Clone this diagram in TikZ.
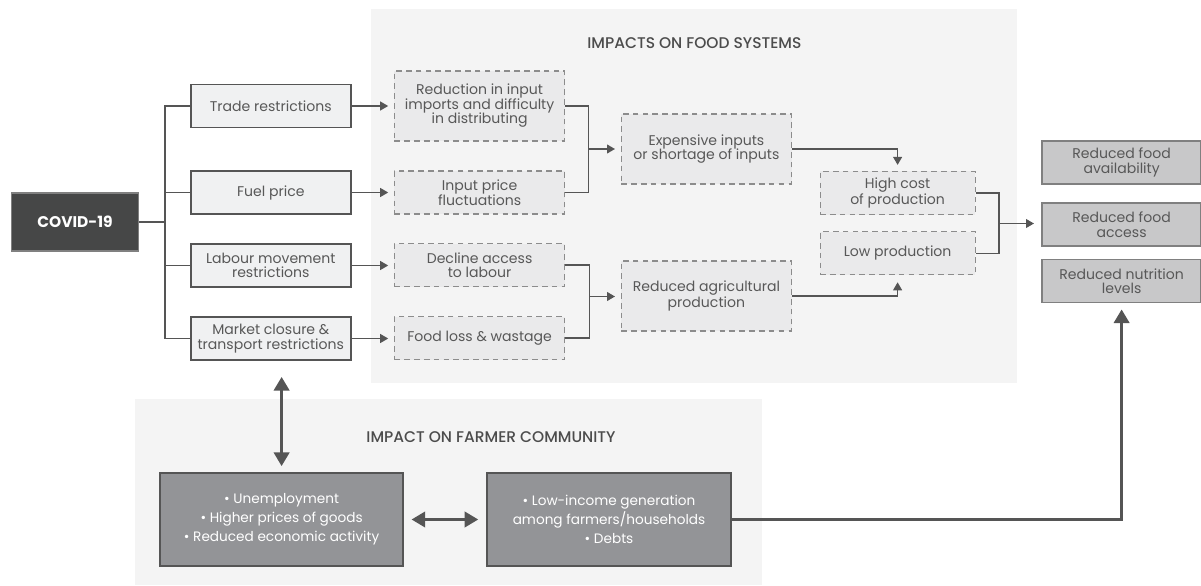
\documentclass[tikz,border=0pt]{standalone}
\usepackage{fontspec}
\setmainfont{Poppins}
\newfontfamily\headfont{Poppins Medium}
\usetikzlibrary{arrows.meta,positioning}
\definecolor{panelcol}{RGB}{244,244,244}
\definecolor{causecol}{RGB}{240,241,242}
\definecolor{effectcol}{RGB}{234,234,235}
\definecolor{outcol}{RGB}{200,200,201}
\definecolor{farmcol}{RGB}{147,148,151}
\definecolor{covidcol}{RGB}{70,71,71}
\definecolor{linecol}{RGB}{85,85,85}
\definecolor{dashcol}{RGB}{140,140,140}
\definecolor{textcol}{RGB}{88,88,88}

\begin{document}
\begin{tikzpicture}[
    >={Triangle[length=2mm,width=2.2mm]},
    font=\fontsize{10}{10.3}\selectfont, text=textcol,
    covid/.style={rectangle, fill=covidcol, draw=gray, line width=1pt, minimum width=3.175cm, minimum height=1.45cm, text=white, font=\bfseries\fontsize{11}{13}\selectfont},
    cause/.style={rectangle, fill=causecol, draw=linecol, line width=1.3pt, minimum width=4.01cm, minimum height=1.075cm, align=center},
    effect/.style={rectangle, fill=effectcol, draw=dashcol, line width=0.8pt, dash pattern=on 4pt off 3pt, minimum width=4.26cm, minimum height=1.075cm, align=center},
    outcome/.style={rectangle, fill=outcol, draw=gray, line width=1.3pt, minimum width=3.975cm, minimum height=1.075cm, align=center},
    farm/.style={rectangle, fill=farmcol, draw=linecol, line width=1.3pt, minimum width=6.09cm, minimum height=2.325cm, align=center, text=white, font=\fontsize{9.7}{13.5}\selectfont},
    heading/.style={font=\headfont\fontsize{11}{13}\selectfont, text=black!70},
    link/.style={draw=linecol, line width=1.1pt},
    arrow/.style={link, ->, shorten >=4pt},
    bigline/.style={draw=linecol, line width=2.2pt},
    bigtip/.tip={Triangle[length=3.4mm,width=3.8mm]},
]
\useasboundingbox (0,0) rectangle (30.025,14.625);

% shaded panels
\fill[panelcol] (9.275,5.05) rectangle (25.425,14.4);
\fill[panelcol] (3.375,0) rectangle (19.05,4.65);
\node[heading] (H1) at (17.36,13.55) {IMPACTS ON FOOD SYSTEMS};
\node[heading] (H2) at (12.275,3.7) {IMPACT ON FARMER COMMUNITY};

% source and drivers
\node[covid] (CV) at (1.875,9.075) {COVID-19};
\node[cause] (S1) at (6.77,11.975) {Trade restrictions};
\node[cause] (S2) at (6.77,9.8125) {Fuel price};
\node[cause] (S3) at (6.77,7.9875) {Labour movement\\restrictions};
\node[cause] (S4) at (6.77,6.1625) {Market closure \&\\transport restrictions};

% food system effects
\node[effect, minimum height=1.75cm] (E1) at (11.99,11.975) {Reduction in input\\imports and difficulty\\in distributing};
\node[effect] (E2) at (11.99,9.8125) {Input price\\fluctuations};
\node[effect] (E3) at (11.99,8.0) {Decline access\\to labour};
\node[effect] (E4) at (11.99,6.175) {Food loss \& wastage};
\node[effect, minimum height=1.75cm] (E5) at (17.66,10.9) {Expensive inputs\\or shortage of inputs};
\node[effect, minimum height=1.75cm] (E6) at (17.66,7.225) {Reduced agricultural\\production};
\node[effect, minimum width=3.875cm] (E7) at (22.44,9.8) {High cost\\of production};
\node[effect, minimum width=3.875cm] (E8) at (22.44,8.29) {Low production};

% outcomes
\node[outcome] (R1) at (28.04,10.5625) {Reduced food\\availability};
\node[outcome] (R2) at (28.04,9.0125) {Reduced food\\access};
\node[outcome] (R3) at (28.04,7.6) {Reduced nutrition\\levels};

% farmer community
\node[farm] (F1) at (7.04,1.6375) {• Unemployment\\• Higher prices of goods\\• Reduced economic activity};
\node[farm] (F2) at (15.225,1.6375) {• Low-income generation\\among farmers/households\\• Debts};

% tree from COVID-19 to the drivers
\coordinate (trunk) at (4.125,9.075);
\draw[link] (CV.east) -- (trunk);
\draw[link] (S1.west) -| (trunk) |- (S4.west);
\draw[link] (S2.west) -- (S2.west -| trunk);
\draw[link] (S3.west) -- (S3.west -| trunk);
\foreach \i in {1,...,4}
    \draw[arrow] (S\i.east) -- (S\i.east -| E\i.west);

% joins inside the food system
\coordinate (jA) at (14.715,10.9);
\coordinate (jB) at (14.735,7.2125);
\coordinate (jC) at (24.975,9.0375);
\draw[link] (E1.east) -| (jA) |- (E2.east);
\draw[arrow] (jA) -- (E5.west);
\draw[link] (E3.east) -| (jB) |- (E4.east);
\draw[arrow] (jB) -- (jB -| E6.west);
\draw[arrow, shorten >=0.15cm] (E5.east) -| (E7.north);
\draw[arrow, shorten >=0.17cm] (E6.east) -| (E8.south);
\draw[link] (E7.east) -| (jC) |- (E8.east);
\draw[arrow, shorten >=0.18cm] (jC) -- (jC -| R2.west);

% farmer links
\draw[bigline, bigtip-bigtip, shorten <=0.4cm, shorten >=0.15cm] (F1.north |- S4.south) -- (F1.north);
\draw[bigline, bigtip-bigtip, shorten <=0.18cm, shorten >=0.2cm] (F1.east) -- (F2.west);
\draw[bigline, -bigtip, shorten >=0.15cm] (F2.east) -| (R3.south);
\end{tikzpicture}
\end{document}
